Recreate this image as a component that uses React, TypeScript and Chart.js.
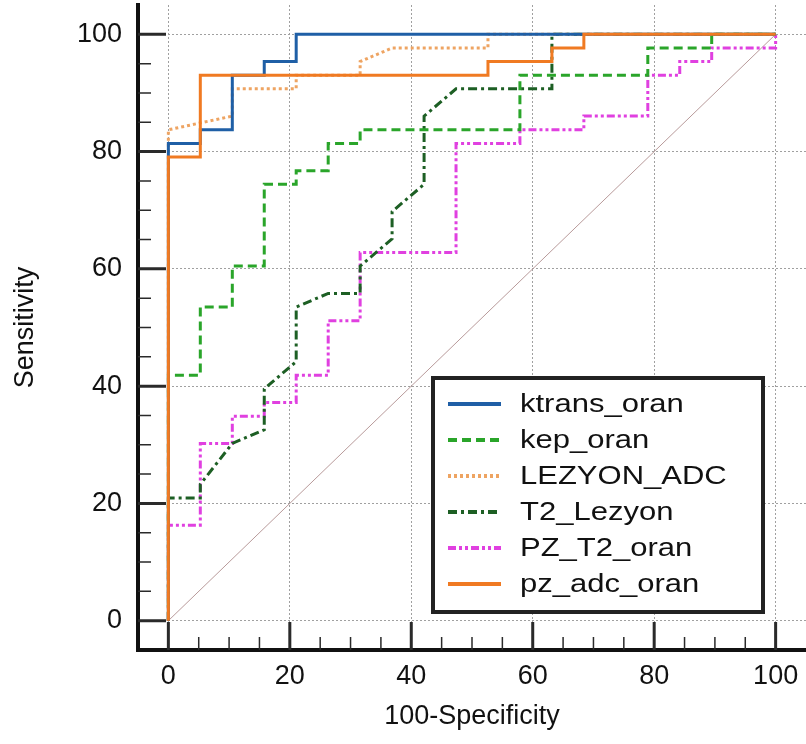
import React, { useEffect, useRef } from 'react';
import { Chart, registerables } from 'chart.js';
Chart.register(...registerables);

// ROC curves (x = 100-Specificity, y = Sensitivity)
const ktransX = [0, 0, 5.26, 5.26, 10.53, 10.53, 15.79, 15.79, 21.05, 21.05, 100];
const ktransY = [0, 81.4, 81.4, 83.72, 83.72, 93.02, 93.02, 95.35, 95.35, 100, 100];

const kepX = [0, 0, 5.26, 5.26, 10.53, 10.53, 15.79, 15.79, 21.05, 21.05, 26.32, 26.32, 31.58, 31.58, 57.89, 57.89, 78.95, 78.95, 89.47, 89.47, 100];
const kepY = [0, 41.86, 41.86, 53.49, 53.49, 60.47, 60.47, 74.42, 74.42, 76.74, 76.74, 81.4, 81.4, 83.72, 83.72, 93.02, 93.02, 97.67, 97.67, 100, 100];

const lezyonX = [0, 0, 10.53, 10.53, 21.05, 21.05, 31.58, 31.58, 36.84, 52.63, 52.63, 100];
const lezyonY = [0, 83.72, 86.05, 90.7, 90.7, 93.02, 93.02, 95.35, 97.67, 97.67, 100, 100];

const t2X = [0, 0, 5.26, 5.26, 10.53, 15.79, 15.79, 21.05, 21.05, 26.32, 31.58, 31.58, 36.84, 36.84, 42.11, 42.11, 47.37, 63.16, 63.16, 100];
const t2Y = [0, 20.93, 20.93, 23.26, 30.23, 32.56, 39.53, 44.19, 53.49, 55.81, 55.81, 60.47, 65.12, 69.77, 74.42, 86.05, 90.7, 90.7, 100, 100];

const pzT2X = [0, 0, 5.26, 5.26, 10.53, 10.53, 15.79, 15.79, 21.05, 21.05, 26.32, 26.32, 31.58, 31.58, 47.37, 47.37, 57.89, 57.89, 68.42, 68.42, 78.95, 78.95, 84.21, 84.21, 89.47, 89.47, 100, 100];
const pzT2Y = [0, 16.28, 16.28, 30.23, 30.23, 34.88, 34.88, 37.21, 37.21, 41.86, 41.86, 51.16, 51.16, 62.79, 62.79, 81.4, 81.4, 83.72, 83.72, 86.05, 86.05, 93.02, 93.02, 95.35, 95.35, 97.67, 97.67, 100];

const pzAdcX = [0, 0, 5.26, 5.26, 52.63, 52.63, 63.16, 63.16, 68.42, 68.42, 100];
const pzAdcY = [0, 79.07, 79.07, 93.02, 93.02, 95.35, 95.35, 97.67, 97.67, 100, 100];

const refX = [0, 100];
const refY = [0, 100];

const seriesNames = ['ktrans_oran', 'kep_oran', 'LEZYON_ADC', 'T2_Lezyon', 'PZ_T2_oran', 'pz_adc_oran'];
const majorTicks = [0, 20, 40, 60, 80, 100];
const minorTicks = [5, 10, 15, 25, 30, 35, 45, 50, 55, 65, 70, 75, 85, 90, 95];

const zip = (xs: number[], ys: number[]) => xs.map((x, i) => ({ x, y: ys[i] }));

const FONT = "'Liberation Sans', Arial, sans-serif";

const innerTicks = {
  id: 'innerTicks',
  afterDatasetsDraw(chart: any) {
    const { ctx, chartArea, scales } = chart;
    const xs = scales.x, ys = scales.y;
    ctx.save();
    ctx.setLineDash([]);
    ctx.strokeStyle = '#2a2a2a';
    const draw = (vals: number[], len: number, w: number) => {
      ctx.lineWidth = w;
      ctx.beginPath();
      for (const v of vals) {
        const py = ys.getPixelForValue(v);
        ctx.moveTo(chartArea.left, py);
        ctx.lineTo(chartArea.left + len, py);
        const px = xs.getPixelForValue(v);
        ctx.moveTo(px, chartArea.bottom);
        ctx.lineTo(px, chartArea.bottom - len);
      }
      ctx.stroke();
    };
    draw(majorTicks, 28, 3);
    draw(minorTicks, 13, 1.5);
    ctx.restore();
  },
};

const boxLegend = {
  id: 'boxLegend',
  afterDraw(chart: any) {
    const { ctx } = chart;
    ctx.save();
    ctx.setLineDash([]);
    ctx.strokeStyle = '#222';
    ctx.lineWidth = 4;
    ctx.fillStyle = '#fff';
    ctx.fillRect(433, 378, 330, 234);
    ctx.strokeRect(433, 378, 330, 234);
    const items = chart.data.datasets.filter((d: any) => seriesNames.includes(d.label));
    seriesNames.forEach((name, i) => {
      const ds = items.find((d: any) => d.label === name);
      const cy = 404 + i * 36;
      ctx.save();
      ctx.strokeStyle = ds.borderColor;
      ctx.lineWidth = 4;
      ctx.setLineDash(ds.borderDash || []);
      ctx.beginPath();
      ctx.moveTo(448, cy);
      ctx.lineTo(501, cy);
      ctx.stroke();
      ctx.restore();
      ctx.save();
      ctx.fillStyle = '#111';
      ctx.font = `25px ${FONT}`;
      ctx.textBaseline = 'middle';
      ctx.translate(520, cy + 1);
      ctx.scale(1.24, 1);
      ctx.fillText(name, 0, 0);
      ctx.restore();
    });
    ctx.restore();
  },
};

export default function App() {
  const ref = useRef<HTMLCanvasElement>(null);
  useEffect(() => {
    const line = (label: string, xs: number[], ys: number[], color: string, dash: number[], order: number, width = 3) => ({
      label,
      data: zip(xs, ys),
      borderColor: color,
      backgroundColor: color,
      borderWidth: width,
      borderDash: dash,
      pointRadius: 0,
      fill: false,
      tension: 0,
      order,
    });
    const chart = new Chart(ref.current!, {
      type: 'line',
      data: {
        datasets: [
          line('ref', refX, refY, '#b89a9a', [], 7, 1),
          line('ktrans_oran', ktransX, ktransY, '#1f5fa6', [], 1),
          line('kep_oran', kepX, kepY, '#2aa52a', [9, 5], 3),
          line('LEZYON_ADC', lezyonX, lezyonY, '#eea462', [3, 3], 2),
          line('T2_Lezyon', t2X, t2Y, '#1d5f24', [9, 4, 3, 4], 4),
          line('PZ_T2_oran', pzT2X, pzT2Y, '#e040e0', [8, 3, 3, 3, 3, 3], 5),
          line('pz_adc_oran', pzAdcX, pzAdcY, '#f07a22', [], 0),
        ],
      },
      options: {
        animation: false,
        responsive: true,
        maintainAspectRatio: false,
        layout: { padding: { top: 5, right: 0, left: 0, bottom: 0 } },
        plugins: { legend: { display: false }, tooltip: { enabled: false } },
        scales: {
          x: {
            type: 'linear',
            min: -5,
            max: 105,
            afterBuildTicks: (s: any) => { s.ticks = majorTicks.map((v) => ({ value: v })); },
            afterFit: (s: any) => { s.height = 94; s.paddingLeft = 0; s.paddingRight = 0; },
            ticks: { color: '#111', font: { size: 27, family: FONT }, padding: 10, maxRotation: 0 },
            grid: { color: '#a0a0a0', lineWidth: 1, drawTicks: false },
            border: { display: true, color: '#111', width: 4, dash: [2, 2] },
            title: { display: true, text: '100-Specificity', color: '#111', font: { size: 27, family: FONT }, padding: { top: 0, bottom: 11 } },
          },
          y: {
            type: 'linear',
            min: -5,
            max: 105,
            afterBuildTicks: (s: any) => { s.ticks = majorTicks.map((v) => ({ value: v })); },
            afterFit: (s: any) => { s.width = 138; s.paddingTop = 0; s.paddingBottom = 0; },
            ticks: { color: '#111', font: { size: 27, family: FONT }, padding: 16 },
            grid: { color: '#a0a0a0', lineWidth: 1, drawTicks: false },
            border: { display: true, color: '#111', width: 4, dash: [2, 2] },
            title: { display: true, text: 'Sensitivity', color: '#111', font: { size: 27, family: FONT }, padding: { top: 9, bottom: 0 } },
          },
        },
      },
      plugins: [innerTicks, boxLegend],
    });
    return () => chart.destroy();
  }, []);
  return (
    <div style={{ position: 'absolute', left: 0, top: 0, width: 806, height: 744, background: '#fff' }}>
      <canvas ref={ref} />
    </div>
  );
}
